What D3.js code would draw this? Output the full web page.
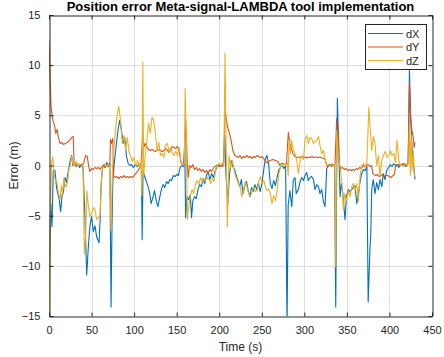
<!DOCTYPE html>
<html>
<head>
<meta charset="utf-8">
<script src="https://cdn.jsdelivr.net/npm/d3@7"></script>
<style>
  html, body { margin: 0; padding: 0; background: #fff; }
  svg { display: block; font-family: "Liberation Sans", Arial, Helvetica, sans-serif; }
</style>
</head>
<body>
<svg id="chart" width="444" height="357"></svg>
<script>
// Position error per axis, [time (s), error (m)]
const dX = [[0,-12.1],[1,-8],[2,-3.8],[3.5,-6.1],[5,-0.5],[7,-0.5],[9,-2.3],[11,-3.0],[12,-3.4],[13.7,-4.6],[15.3,-3.0],[16.8,-2.7],[18.8,-1.2],[20.7,-1.7],[22.7,-0.5],[24.5,0.3],[26.6,1.0],[28,0.0],[30,0.2],[32,-0.1],[34,0.1],[36,-0.2],[38,0.1],[40,-0.3],[42,-4.5],[44.3,-10.9],[46,-8.4],[48,-6.1],[50,-5.1],[52,-6.6],[54,-6.0],[56,-7.1],[58.8,-7.7],[60,-5.5],[61,-2.4],[62.5,-0.5],[64,0.1],[66,-0.2],[68,0.3],[70,0.0],[71.5,0.2],[72.9,-14.1],[74,-6.1],[75,-1.5],[77,0.5],[79,2.0],[81,3.5],[83,4.5],[85,3.6],[87,2.2],[89,2.8],[91,0.9],[93,0.2],[95,0.0],[97,0.1],[99,-0.2],[101,0.1],[103,-0.1],[105,0.0],[107,0.2],[108.5,0.0],[109.5,-7.4],[110.5,-0.5],[112,-1.0],[114,-1.5],[116,-2.0],[118,-2.6],[120,-3.8],[122,-3.2],[124,-2.5],[126,-3.5],[128,-4.1],[130,-3.2],[132,-2.4],[134,-1.9],[136,-2.2],[138,-1.6],[140,-1.8],[142,-1.4],[144,-1.5],[146,-1.0],[148,-1.1],[150,-0.9],[152,-1.0],[154,-0.2],[156,0.0],[158,-0.1],[159.5,2.3],[160.5,-5.2],[162,-3.1],[164,-3.4],[166,-2.9],[167.5,-5.2],[169,-3.5],[171,-3.1],[173,-3.3],[175,-2.4],[177,-1.9],[179,-2.1],[181,-1.3],[183,-1.8],[185,-1.0],[187,-0.6],[189,-1.4],[191,-0.8],[193,-1.2],[195,-0.6],[197,-0.2],[199,0.0],[201,-0.1],[203,0.1],[205,0.0],[206.5,3.0],[208,-1.0],[210,-3.8],[212,-1.0],[214,0.5],[216,-0.1],[218,-0.4],[220,-1.0],[222,-1.5],[224,-2.1],[226,-1.4],[228,-2.8],[230,-2.0],[232,-1.6],[234,-2.5],[236,-3.1],[238,-2.2],[240,-2.6],[242,-1.9],[244,-2.4],[246,-1.7],[248,-2.6],[250,-1.9],[252,-0.6],[254,0.6],[256,1.0],[258,0.2],[260,-1.8],[262,-2.3],[264,-1.5],[266,-2.0],[268,-1.2],[270,-0.4],[272,-0.2],[274,0.0],[276,-0.3],[278,0.0],[279.7,-16],[281,-4.0],[283,-2.5],[285.3,-4.1],[287,-1.5],[289,-1.2],[290.5,-2.8],[293,-2.4],[295,-1.6],[297,-1.2],[299,-1.5],[300.8,-1.0],[302.8,-0.7],[304.7,-1.5],[306.7,-1.2],[308.6,-1.1],[310.6,-1.4],[312.6,-2.4],[314.6,-1.9],[316.6,-2.1],[318.4,-2.8],[320.4,-2.4],[322.4,-3.6],[324.3,-4.1],[326.3,-0.3],[328,0.0],[330,0.1],[332,-0.1],[334,0.1],[335.5,0.0],[336.9,-14.1],[338,-1.5],[338.8,6.7],[340.5,1.5],[342,-3.1],[343.5,-1.8],[345,-2.6],[347.8,-5.4],[349.5,-3.1],[351.5,-2.4],[353.5,-2.6],[355.5,-2.4],[357.5,-2.2],[359.5,-2.0],[361.6,-3.8],[363.5,-2.8],[365.5,-1.6],[367.5,-0.8],[369.5,-0.4],[371.5,-0.5],[373.5,-0.1],[375,-13.6],[377.2,-8.1],[378,-7.0],[379.2,-2.4],[381,-1.4],[383,-2.8],[385,-1.7],[387,-2.4],[389,-1.4],[391,-2.1],[392.8,-0.8],[394.8,-1.4],[396.8,-0.5],[399,-0.2],[401,0.1],[403,-0.1],[405,0.2],[407,0.0],[409,0.1],[411,-0.2],[413,0.1],[415,0.0],[417,0.2],[419,-0.1],[421,0.1],[422,0.3],[423.5,9.5],[425,4.5],[427,0.9],[429,-0.4],[430,-1.4]];

const dY = [[0,12.5],[1,9.5],[2.5,5.8],[4.5,4.5],[6.5,4.0],[8,3.2],[9.5,3.6],[11,2.8],[13,2.2],[15,2.3],[17,2.1],[19,2.2],[21,2.3],[23,2.4],[25,2.6],[27,2.8],[28.5,2.9],[29.5,0.2],[31,0.0],[33,0.2],[35,-0.1],[37,0.1],[39,0.0],[41,0.3],[43,1.0],[45,0.9],[46.5,0.0],[48,-0.6],[50,-0.3],[52,-0.4],[54,-0.2],[56,-0.3],[58,-0.2],[60,-0.4],[62,-0.1],[64,0.0],[66,-0.2],[68,0.0],[70,-0.1],[71.5,0.0],[72.2,2.6],[73.5,2.2],[75,2.7],[76,-1.1],[78,-1.2],[80,-1.1],[82,-1.3],[84,-1.1],[86,-1.2],[88,-1.0],[90,-1.2],[92,-1.1],[94,-1.2],[96,-1.1],[98,-1.2],[100,-1.0],[102,-0.8],[104,-0.6],[106,-0.3],[108,0.0],[110.2,3.3],[111.5,1.8],[113,2.2],[115,1.8],[117,1.6],[119,1.5],[121,1.6],[123,1.5],[125,1.4],[127,1.5],[129,1.6],[131,1.5],[133,1.4],[135,1.5],[137,1.7],[139,1.5],[141,1.3],[143,1.6],[145,1.9],[147,1.8],[149,1.7],[151,1.9],[153,1.5],[155,0.3],[157,0.0],[159,0.1],[160.5,4.5],[161.5,2.5],[162.5,0.3],[163.5,-1.2],[165,0.0],[167,-0.2],[169,0.1],[171,-0.4],[173,-0.2],[175,-0.5],[177,-0.3],[179,-0.6],[181,-0.4],[183,-0.7],[185,-0.5],[187,-0.8],[189,-0.4],[191,-0.6],[193,-0.3],[195,-0.1],[197,0.0],[199,0.1],[201,0.0],[203,-0.1],[205,0.0],[206.8,5.5],[208.5,4.5],[210,3.8],[212,3.2],[214,2.5],[216,1.5],[218.5,1.0],[220.5,0.9],[222.5,0.8],[224.5,1.0],[226.5,0.7],[228.5,0.9],[230.5,0.8],[232.5,1.0],[234.5,0.8],[236.5,0.9],[238.5,0.7],[240.5,0.9],[242.5,0.8],[244.5,1.0],[246.5,0.9],[248.5,0.8],[250.5,0.9],[253,0.6],[256,0.25],[258,0.4],[260,0.5],[263,0.6],[266,0.5],[269,0.4],[271.4,0.0],[273,0.2],[275,0.2],[277,0.1],[279,0.2],[281.2,3.3],[283,2.2],[284.5,1.8],[286.5,1.2],[289,0.9],[291,0.8],[293,0.85],[295,0.8],[297,0.9],[299,0.8],[301,0.85],[303,0.75],[305,0.85],[307,0.8],[309,0.9],[311,0.8],[313,0.85],[315,0.8],[317,0.85],[319,0.8],[321,0.75],[323,0.7],[324.5,0.6],[326.3,0.0],[328,-0.1],[330,0.0],[332,0.1],[334,0.0],[336,0.0],[338,4.7],[339,2.0],[340,3.0],[341,0.2],[343,-0.3],[345,-0.2],[347,-0.4],[349,-0.3],[351,-0.5],[353,-0.4],[355,-0.5],[357,-0.4],[359,-0.5],[361,-0.3],[363,-0.4],[365,-0.2],[367,-0.3],[369.4,0.0],[371,-0.1],[373,0.0],[375,0.1],[377,-0.1],[379,0.0],[380.5,-0.8],[382,-0.9],[384,-1.0],[386,-0.9],[388,-1.1],[390,-1.0],[392,-0.9],[394,-1.1],[396,-1.0],[398,-1.0],[400,-1.1],[402,-1.2],[404,-1.0],[406,-0.9],[407,-0.1],[409,0.0],[411,0.1],[413,0.0],[415,0.2],[417,0.0],[419,0.1],[421,0.0],[422,0.2],[423.5,8.3],[424.5,5.5],[425.5,4.2],[426.5,3.5],[428,2.8],[429,1.8],[430,2.3]];

const dZ = [[0,-16],[1.5,-5],[3,0.2],[4.5,0.9],[6,-0.8],[7.5,-1.5],[9,-1.5],[11,-2.7],[13,-3.4],[14.5,-2.0],[16,-2.8],[17.5,-1.2],[18.8,-1.9],[20.5,-2.1],[22,-1.5],[23.5,-0.3],[25,0.0],[26.6,0.9],[28,0.2],[30,0.0],[32,0.4],[34,-0.1],[36,0.2],[38,0.0],[40,0.0],[41.5,-8.8],[43,-7.0],[44.5,-2.5],[46,-3.8],[48,-5.1],[50,-4.8],[52,-4.2],[54,-4.4],[56,-5.4],[58,-5.2],[60,-5.0],[61.5,-1.5],[63,0.0],[65,0.2],[67,-0.1],[69,0.1],[71,0.0],[72.9,-6.5],[74.5,-0.5],[76,1.5],[78,3.5],[80,5.0],[82,5.9],[84,4.5],[86,2.2],[88,3.0],[90,1.5],[92,2.8],[94,1.4],[96,0.9],[98,0.4],[100,0.8],[102,-0.1],[104,0.5],[106,0.0],[108,0.3],[109.2,-3.0],[110.2,10.3],[111.2,-1.0],[113,0.9],[115,2.5],[117,4.2],[119,3.2],[121,4.8],[123,4.5],[125,3.2],[127,1.5],[129,2.3],[131,1.0],[133,1.2],[135,0.8],[137,2.0],[139,2.2],[141,1.4],[143,1.8],[145,1.2],[147,1.0],[149,1.4],[151,1.0],[153,1.8],[155,0.5],[157,0.0],[159,0.2],[160,7.7],[160.8,4.5],[161.5,2.2],[162.5,-5.4],[164,-4.1],[166,-3.1],[168,-2.4],[170,-2.8],[172,-1.9],[174,-1.5],[176,-1.9],[178,-1.2],[180,-1.6],[182,-1.3],[184,-1.5],[186,-1.2],[188,-1.4],[190,-1.8],[192,-1.3],[194,-1.6],[196,-0.3],[198,0.0],[200,0.2],[202,0.0],[204,0.3],[205.5,0.0],[206.8,11.2],[208,3.0],[209.5,-6.1],[211.5,1.0],[213.5,-0.2],[215.5,0.5],[217.5,-0.5],[219,-1.0],[220.5,-1.3],[222.5,-1.8],[224.5,-2.1],[226.5,-3.1],[228.5,-2.5],[230.5,-1.6],[232.5,-2.1],[234.5,-2.8],[236.5,-3.1],[238.5,-2.6],[240.5,-2.1],[242.5,-2.6],[244.5,-2.5],[246.5,-1.6],[248.5,-1.1],[250.5,-1.8],[252.5,-1.5],[254.5,-2.2],[256,-2.5],[258,-2.3],[260,-2.8],[262,-3.8],[264,-3.0],[266,-3.5],[268,-2.5],[270,-0.8],[272,-0.2],[274,0.0],[276,0.1],[278,0.0],[280,0.3],[281,-1.0],[282,2.5],[283.5,1.2],[285,2.5],[287,1.5],[289,1.2],[291,0.5],[293,-0.8],[295,0.4],[297,1.0],[299,0.6],[300.8,2.5],[302.8,3.0],[304.7,2.2],[306.7,2.8],[308.6,2.7],[310.6,2.2],[312.6,2.4],[314.6,2.5],[316.6,2.9],[318.4,2.0],[320.4,1.2],[322.4,1.5],[324.3,0.7],[326.3,0.0],[328,0.1],[330,-0.1],[332,0.2],[334,0.0],[335.8,0.1],[336.9,-10.1],[338,3.5],[340,0.8],[342,-0.2],[344,-1.5],[345.8,-4.4],[347.5,-2.8],[349.8,-3.5],[351.7,-2.5],[353.7,-3.1],[355.7,-2.1],[357.6,-1.8],[359.6,-2.5],[361.6,-1.8],[363.5,-3.6],[365.5,-1.0],[367.5,0.0],[369.5,0.2],[371.5,-0.1],[373.5,0.3],[375.8,5.8],[377.2,3.8],[379.2,1.5],[381,2.9],[383,2.2],[385,0.0],[387,1.0],[389,-1.1],[391,0.5],[393,1.0],[395,1.4],[397,0.8],[399,1.0],[401,1.5],[403,1.0],[405,1.2],[407,0.3],[409,2.5],[411,0.5],[413,0.0],[415,0.1],[417,-0.1],[419,0.2],[421,0.0],[422.5,0.3],[423.5,4.2],[424.5,-1.0],[425.5,3.0],[426.5,-0.5],[428,1.5],[429,-0.8],[430,-1.1]];

const seriesNames = ["dX", "dY", "dZ"];
const seriesColors = ["#0072BD", "#D95319", "#EDB120"];
const xTicks = [0, 50, 100, 150, 200, 250, 300, 350, 400, 450];
const yTicks = [-15, -10, -5, 0, 5, 10, 15];
const titleText = "Position error Meta-signal-LAMBDA tool implementation";
const xLabel = "Time (s)";
const yLabel = "Error (m)";

(function draw() {
  const svg = d3.select("#chart");
  const pLeft = 49, pRight = 432, pTop = 15, pBottom = 316;
  const axisColor = "#262626";

  const x = d3.scaleLinear().domain([0, 450]).range([pLeft, pRight]);
  const y = d3.scaleLinear().domain([-15, 15]).range([pBottom, pTop]);

  svg.append("rect").attr("width", 444).attr("height", 357).attr("fill", "#fff");

  svg.append("defs").append("clipPath").attr("id", "plotClip")
    .append("rect").attr("x", pLeft).attr("y", pTop)
    .attr("width", pRight - pLeft).attr("height", pBottom - pTop);

  // grid
  const grid = svg.append("g").attr("stroke", "#dfdfdf").attr("stroke-width", 1);
  grid.selectAll("line.gx").data(xTicks.slice(1, -1)).join("line")
    .attr("x1", d => Math.round(x(d)) + 0.5).attr("x2", d => Math.round(x(d)) + 0.5)
    .attr("y1", pTop).attr("y2", pBottom);
  grid.selectAll("line.gy").data(yTicks.slice(1, -1)).join("line")
    .attr("y1", d => Math.round(y(d)) + 0.5).attr("y2", d => Math.round(y(d)) + 0.5)
    .attr("x1", pLeft).attr("x2", pRight);

  // series
  const line = d3.line().x(d => x(d[0])).y(d => y(d[1]));
  const plot = svg.append("g").attr("clip-path", "url(#plotClip)");
  [dX, dY, dZ].forEach((data, i) => {
    plot.append("path").datum(data)
      .attr("fill", "none")
      .attr("stroke", seriesColors[i])
      .attr("stroke-width", 1.1)
      .attr("stroke-linejoin", "round")
      .attr("d", line);
  });

  // axes: bottom and left carry labels, top and right mirror the ticks
  const tickLen = -4;
  const fmt = d3.format("d");
  const gx = svg.append("g").attr("transform", `translate(0,${pBottom + 0.5})`)
    .call(d3.axisBottom(x).tickValues(xTicks).tickFormat(fmt).tickSizeInner(tickLen).tickSizeOuter(0).tickPadding(10));
  const gxTop = svg.append("g").attr("transform", `translate(0,${pTop + 0.5})`)
    .call(d3.axisTop(x).tickValues(xTicks).tickFormat("").tickSizeInner(tickLen).tickSizeOuter(0));
  const gy = svg.append("g").attr("transform", `translate(${pLeft + 0.5},0)`)
    .call(d3.axisLeft(y).tickValues(yTicks).tickFormat(fmt).tickSizeInner(tickLen).tickSizeOuter(0).tickPadding(9));
  const gyRight = svg.append("g").attr("transform", `translate(${pRight + 0.5},0)`)
    .call(d3.axisRight(y).tickValues(yTicks).tickFormat("").tickSizeInner(tickLen).tickSizeOuter(0));

  [gx, gxTop, gy, gyRight].forEach(g => {
    g.selectAll("path.domain").attr("stroke", axisColor).attr("stroke-width", 1);
    g.selectAll(".tick line").attr("stroke", axisColor).attr("stroke-width", 1);
    g.selectAll(".tick text").attr("fill", axisColor)
      .style("font-size", "11px").style("font-family", '"Liberation Sans", Arial, sans-serif');
  });

  // axis labels and title
  svg.append("text").attr("x", (pLeft + pRight) / 2).attr("y", 351)
    .attr("text-anchor", "middle").attr("fill", axisColor)
    .style("font-size", "12px").text(xLabel);
  svg.append("text").attr("transform", `translate(18,${(pTop + pBottom) / 2}) rotate(-90)`)
    .attr("text-anchor", "middle").attr("fill", axisColor)
    .style("font-size", "12px").text(yLabel);
  svg.append("text").attr("x", (pLeft + pRight) / 2).attr("y", 11)
    .attr("text-anchor", "middle").attr("fill", "#000")
    .style("font-size", "13px").style("font-weight", "bold").text(titleText);

  // legend
  const lg = svg.append("g");
  lg.append("rect").attr("x", 365.5).attr("y", 24.5).attr("width", 61).attr("height", 45)
    .attr("fill", "#fff").attr("stroke", axisColor).attr("stroke-width", 1);
  seriesNames.forEach((name, i) => {
    const yy = 33.5 + i * 13.5;
    lg.append("line").attr("x1", 368).attr("x2", 403).attr("y1", yy).attr("y2", yy)
      .attr("stroke", seriesColors[i]).attr("stroke-width", 1);
    lg.append("text").attr("x", 406).attr("y", yy + 4).attr("fill", axisColor)
      .style("font-size", "11px").text(name);
  });
})();
</script>
</body>
</html>
